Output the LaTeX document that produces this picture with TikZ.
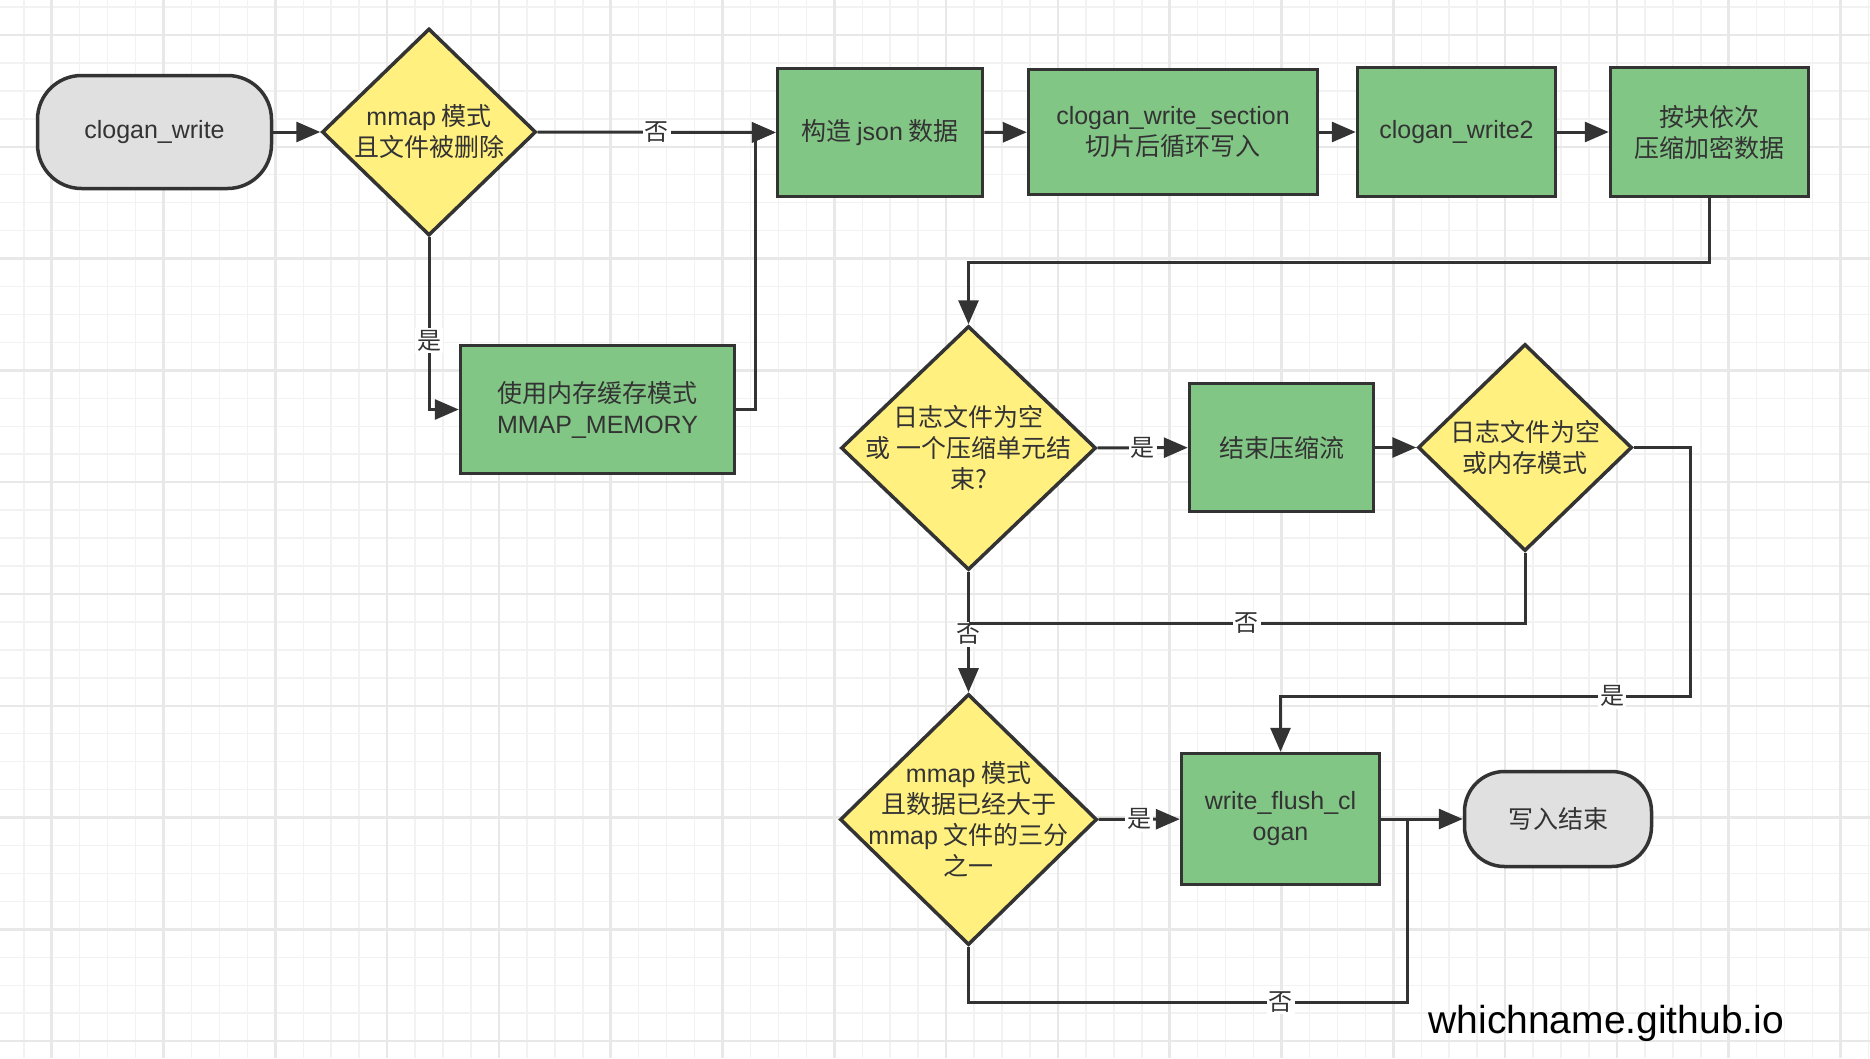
\documentclass[tikz,border=0pt]{standalone}
\usepackage{fontspec}
\setmainfont{Noto Sans CJK SC}
\newfontfamily\en{Liberation Sans}
\usetikzlibrary{shapes.geometric,arrows.meta}
\definecolor{ink}{HTML}{333333}
\definecolor{procgreen}{RGB}{130,198,134}
\definecolor{decyellow}{RGB}{255,240,128}
\definecolor{termgray}{RGB}{224,224,224}
\definecolor{gridminor}{RGB}{242,242,242}
\definecolor{gridmajor}{RGB}{232,232,232}
\begin{document}
\begin{tikzpicture}[x=1pt, y=-1pt, font=\fontsize{25}{31}\selectfont, text=ink,
  term/.style={draw=ink, line width=3.5pt, fill=termgray, rounded corners=44pt, align=center},
  proc/.style={draw=ink, line width=3.5pt, fill=procgreen, align=center, inner sep=0pt},
  decision/.style={diamond, draw=ink, line width=3.5pt, fill=decyellow, inner sep=0pt},
  dtxt/.style={align=center, text=ink},
  flow/.style={draw=ink, line width=3pt, -{Triangle[length=24pt,width=20pt]}},
  wire/.style={draw=ink, line width=3pt},
  lbl/.style={fill=white, inner sep=2pt, font=\fontsize{24}{26}\selectfont}]
\useasboundingbox (0,0) rectangle (1870,1058);
\fill[white] (0,0) rectangle (1870,1058);
% grid
\foreach \i in {0,...,66} \draw[gridminor, line width=1.5pt] ({23.75+27.95*\i},0) -- ({23.75+27.95*\i},1058);
\foreach \j in {0,...,37} \draw[gridminor, line width=1.5pt] (0,{7+27.95*\j}) -- (1870,{7+27.95*\j});
\foreach \i in {0,...,16} \draw[gridmajor, line width=2.5pt] ({51.7+111.8*\i},0) -- ({51.7+111.8*\i},1058);
\foreach \j in {0,...,9} \draw[gridmajor, line width=2.5pt] (0,{35+111.8*\j}) -- (1870,{35+111.8*\j});

% top row
\node[term, minimum width=234pt, minimum height=113pt] (start) at (154.5,132) {{\en clogan\_write}};
\node[decision, minimum width=214pt, minimum height=207pt,
  label={[dtxt]center:{\en mmap} 模式\\且文件被删除}] (d1) at (429,132) {};
\node[proc, minimum width=205pt, minimum height=128pt] (json) at (880,132.5) {构造 {\en json} 数据};
\node[proc, minimum width=289pt, minimum height=125pt] (sec) at (1173,132) {{\en clogan\_write\_section}\\切片后循环写入};
\node[proc, minimum width=198pt, minimum height=129pt] (wr2) at (1456.5,132) {{\en clogan\_write2}};
\node[proc, minimum width=198pt, minimum height=129pt] (blk) at (1709.5,132) {按块依次\\压缩加密数据};
\node[proc, minimum width=274pt, minimum height=128pt] (mem) at (597.5,409.5) {使用内存缓存模式\\{\en MMAP\_MEMORY}};

% middle row
\node[decision, minimum width=255pt, minimum height=244pt,
  label={[dtxt]center:日志文件为空\\或 一个压缩单元结\\束?}] (d2) at (968.5,448) {};
\node[proc, minimum width=184pt, minimum height=128pt] (cls) at (1281.5,447.5) {结束压缩流};
\node[decision, minimum width=214pt, minimum height=207pt,
  label={[dtxt]center:日志文件为空\\或内存模式}] (d3) at (1525,447.5) {};

% bottom row
\node[decision, minimum width=257pt, minimum height=251pt,
  label={[dtxt]center:{\en mmap} 模式\\且数据已经大于\\{\en mmap} 文件的三分\\之一}] (d4) at (968.5,819.5) {};
\node[proc, minimum width=198pt, minimum height=131pt] (wf) at (1280.5,819) {{\en write\_flush\_cl}\\{\en ogan}};
\node[term, minimum width=187pt, minimum height=95pt, rounded corners=40pt] (end) at (1558,819) {写入结束};
\node[anchor=base west, font=\en\fontsize{39}{41}\selectfont, text=black] (site) at (1425,1033) {whichname.github.io};

\coordinate (m1) at (755,132.5);
\coordinate (c1) at (968.5,262);
\coordinate (j1) at (968.5,623);
\coordinate (c2) at (1690,696);
\coordinate (c3) at (1407,1002);

% connectors
\draw[flow] (start) -- (d1);
\draw[flow] (d1) -- node[lbl]{否} (json);
\draw[flow] (d1.south) |- node[lbl, pos=0.3]{是} (mem.west);
\draw[flow] (mem.east) -| (m1) -- (json.west);
\draw[flow] (json) -- (sec);
\draw[flow] (sec) -- (wr2);
\draw[flow] (wr2) -- (blk);
\draw[flow] (blk.south) |- (c1) -- (d2.north);
\draw[flow] (d2) -- node[lbl]{是} (cls);
\draw[flow] (cls) -- (d3);
\draw[flow] (d2) -- node[lbl, pos=0.52]{否} (d4);
\draw[wire] (d3.south) |- node[lbl, pos=0.75]{否} (j1);
\draw[flow] (d3.east) -| (c2) -- node[lbl, pos=0.19]{是} (c2 -| wf.north) -- (wf.north);
\draw[flow] (d4) -- node[lbl]{是} (wf);
\draw[flow] (wf) -- (end);
\draw[wire] (d4.south) |- node[lbl, pos=0.856]{否} (c3) -- (c3 |- wf.east);
\end{tikzpicture}
\end{document}
